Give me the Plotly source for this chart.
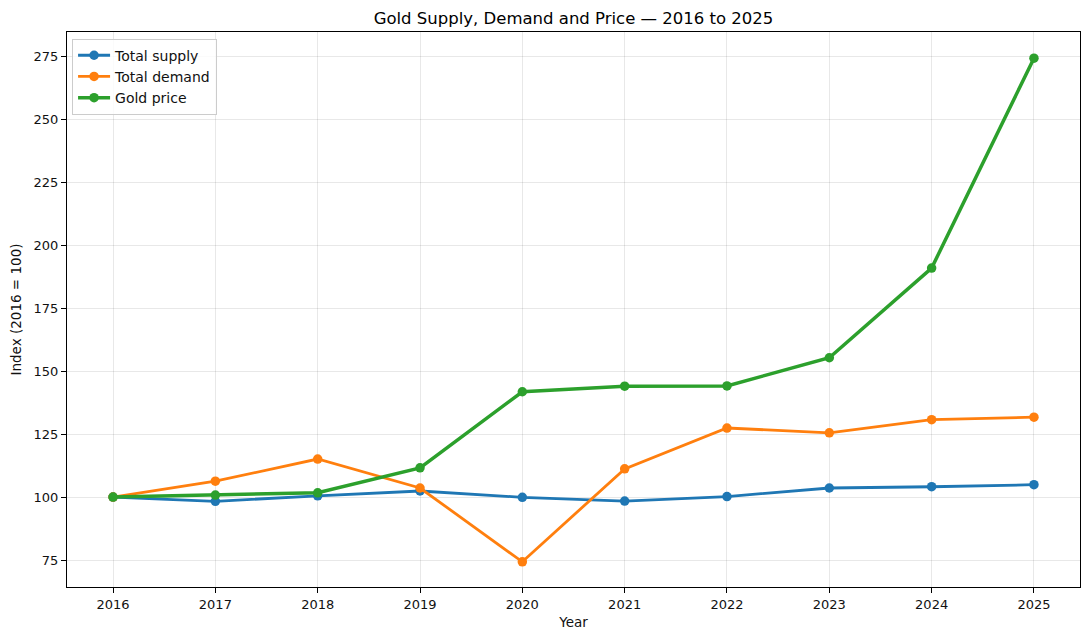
import plotly.graph_objects as go

years = [2016, 2017, 2018, 2019, 2020, 2021, 2022, 2023, 2024, 2025]
total_supply = [100.0, 98.3, 100.5, 102.4, 99.9, 98.4, 100.2, 103.6, 104.1, 104.9]
total_demand = [100.0, 106.3, 115.1, 103.6, 74.3, 111.2, 127.4, 125.5, 130.7, 131.7]
gold_price = [100.0, 100.8, 101.7, 111.6, 141.8, 144.0, 144.1, 155.3, 190.9, 274.2]

y_ticks = [75, 100, 125, 150, 175, 200, 225, 250, 275]

series = [
    ('Total supply', total_supply, '#1f77b4', 2.8),
    ('Total demand', total_demand, '#ff7f0e', 2.8),
    ('Gold price', gold_price, '#2ca02c', 3.5),
]

# page body has an 8px margin, so the figure is sized to fit inside it
W, H = 1073, 624

fig = go.Figure()
for name, vals, color, lw in series:
    fig.add_trace(go.Scatter(
        x=years, y=vals, name=name, mode='lines+markers',
        line=dict(color=color, width=lw),
        marker=dict(color=color, size=9.5),
    ))

axis_common = dict(
    showline=True, linecolor='black', linewidth=1, mirror=True,
    ticks='outside', ticklen=5, tickcolor='black',
    showgrid=True, gridcolor='rgba(0,0,0,0.09)', gridwidth=1,
    zeroline=False, automargin=False,
    tickfont=dict(family='DejaVu Sans', size=13, color='#111'),
)

fig.update_xaxes(
    range=[2015.55, 2025.45], tickvals=years,
    title=dict(text='Year', font=dict(family='DejaVu Sans', size=13.5, color='#111'), standoff=6),
    **axis_common,
)
fig.update_yaxes(
    range=[64.3, 284.6], tickvals=y_ticks,
    title=dict(text='Index (2016 = 100)', font=dict(family='DejaVu Sans', size=13.5, color='#111'), standoff=8),
    **axis_common,
)

fig.update_layout(
    width=W, height=H,
    margin=dict(l=59, r=1, t=24, b=45),
    paper_bgcolor='white', plot_bgcolor='white',
    title=dict(text='Gold Supply, Demand and Price — 2016 to 2025',
               x=0.5, xref='paper', xanchor='center', y=1 - 10 / H, yanchor='middle',
               font=dict(family='DejaVu Sans', size=16.5, color='black')),
    legend=dict(x=0.005, y=0.988, xanchor='left', yanchor='top',
                bgcolor='rgba(255,255,255,0.8)', bordercolor='#cccccc', borderwidth=1,
                font=dict(family='DejaVu Sans', size=14, color='#111'),
                tracegroupgap=0, itemwidth=32),
    showlegend=True,
)

fig.write_html("out.html")
